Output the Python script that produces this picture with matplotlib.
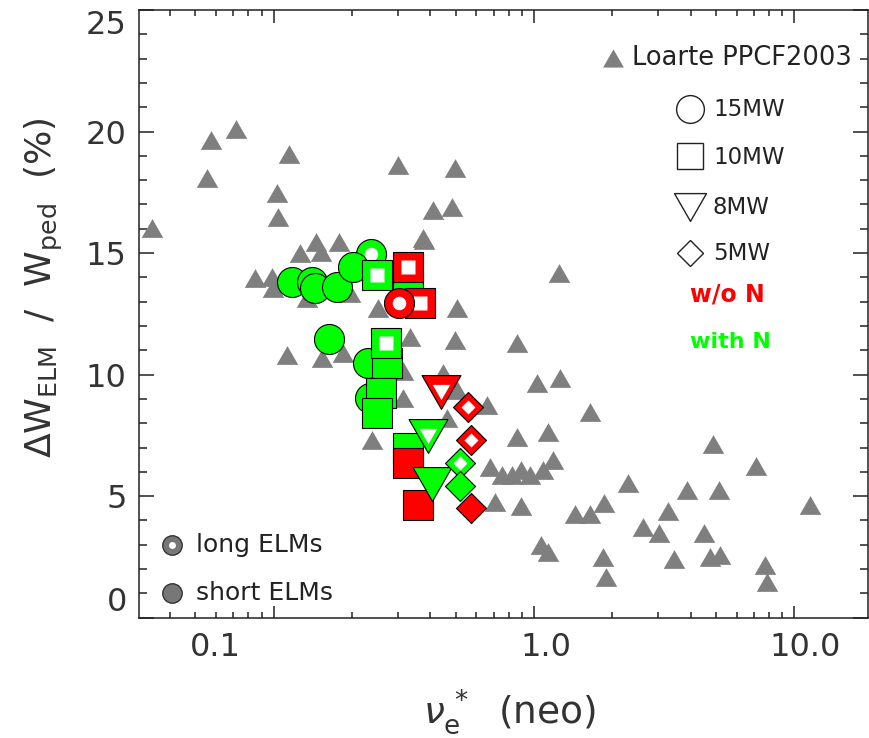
import numpy as np
import matplotlib
matplotlib.use("Agg")
import matplotlib.pyplot as plt
from matplotlib.path import Path
from matplotlib.transforms import ScaledTranslation
from matplotlib.ticker import FixedLocator, NullFormatter, FixedFormatter

plt.rcParams['font.family'] = ['DejaVu Sans']
plt.rcParams['mathtext.fontset'] = 'custom'
plt.rcParams['mathtext.rm'] = 'DejaVu Sans'
plt.rcParams['mathtext.it'] = 'DejaVu Sans:italic'

# ---------------- data ----------------
# Loarte PPCF2003 database (grey triangles)
loarte_nu = [0.0341, 0.0554, 0.0574, 0.0716, 0.1030, 0.1039, 0.1145, 0.0848, 0.0985, 0.0994,
             0.1262, 0.1454, 0.1782, 0.1519, 0.1342, 0.1964, 0.1125, 0.1533, 0.1846, 0.2516,
             0.3339, 0.3747, 0.3139, 0.3139, 0.2386, 0.3003, 0.4093, 0.4842, 0.4972, 0.3780,
             0.5061, 0.4972, 0.4472, 0.5061, 0.6598, 0.4634,
             0.8612, 1.249, 1.027, 1.259, 1.641, 0.6776, 0.7537, 0.8232, 0.7082, 0.8603,
             1.132, 1.183, 0.9654, 1.064, 1.132, 1.437, 1.641, 1.857, 1.841, 1.891,
             2.297, 2.622, 3.021, 3.272, 3.450, 3.870, 4.500, 4.873, 4.745, 5.184,
             5.138, 7.128, 7.720, 7.857, 11.49, 1.083, 0.8914, 0.891]
loarte_dw = [16.04, 18.10, 19.66, 20.11, 17.48, 16.49, 19.08, 13.98, 14.02, 13.57,
             15.01, 15.46, 15.46, 15.05, 13.16, 13.36, 10.81, 10.69, 10.89, 12.75,
             11.55, 15.63, 10.15, 9.04, 7.31, 18.63, 16.78, 16.90, 18.51, 15.54,
             12.75, 11.43, 10.07, 9.37, 8.75, 8.22,
             11.30, 14.19, 9.66, 9.86, 8.47, 6.20, 5.87, 5.87, 4.76, 7.44,
             7.64, 6.49, 5.87, 2.99, 2.70, 4.27, 4.27, 4.72, 2.50, 1.67,
             5.54, 3.73, 3.49, 4.40, 2.41, 5.26, 3.49, 7.15, 2.50, 2.58,
             5.26, 6.24, 2.17, 1.47, 4.64, 6.08, 6.08, 4.60]

# 15 MW (circles)
c15_withN_short_nu = [0.1179, 0.1399, 0.1441, 0.1746, 0.2012, 0.1631, 0.2309, 0.2344]
c15_withN_short_dw = [13.79, 13.79, 13.56, 13.60, 14.44, 11.46, 10.47, 9.03]
c15_withN_long_nu = [0.236]
c15_withN_long_dw = [14.95]
c15_woN_long_nu = [0.3038]
c15_woN_long_dw = [12.94]

# 10 MW (squares)
s10_withN_long_nu = [0.2488, 0.270]
s10_withN_long_dw = [14.10, 11.29]
s10_withN_short_nu = [0.3289, 0.2716, 0.2574, 0.2488, 0.3289]
s10_withN_short_dw = [13.62, 10.47, 9.23, 8.41, 6.97]
s10_woN_long_nu = [0.3289, 0.3648]
s10_woN_long_dw = [14.44, 12.94]
s10_woN_short_nu = [0.3289, 0.3594]
s10_woN_short_dw = [6.35, 4.64]

# 8 MW (down triangles)
t8_woN_long_nu = [0.4393]
t8_woN_long_dw = [9.30]
t8_withN_long_nu = [0.3926]
t8_withN_long_dw = [7.48]
t8_withN_short_nu = [0.4045]
t8_withN_short_dw = [5.50]

# 5 MW (diamonds)
d5_woN_long_nu = [0.5592, 0.5712]
d5_woN_long_dw = [8.68, 7.31]
d5_withN_long_nu = [0.5197]
d5_withN_long_dw = [6.35]
d5_withN_short_nu = [0.5197]
d5_withN_short_dw = [5.42]
d5_woN_short_nu = [0.5712]
d5_woN_short_dw = [4.50]

x_ticks = [0.1, 1.0, 10.0]
x_ticklabels = ['0.1', '1.0', '10.0']
y_ticks = [0, 5, 10, 15, 20, 25]
y_ticklabels = ['0', '5', '10', '15', '20', '25']

GREEN = '#00ff00'
RED = '#ff0000'
GREY = '#7f7f7f'
INK = '#222222'


def tri(up=True):
    s = 1 if up else -1
    verts = [(-1, -0.87 * s), (1, -0.87 * s), (0, 0.87 * s), (0, 0)]
    codes = [Path.MOVETO, Path.LINETO, Path.LINETO, Path.CLOSEPOLY]
    return Path(verts, codes)


TRI_UP = tri(True)
TRI_DN = tri(False)

# ---------------- figure ----------------
W, H = 869, 738
fig = plt.figure(figsize=(W / 100, H / 100), dpi=100)
ax = fig.add_axes([139.3 / W, (H - 617.7) / H, (868 - 139.3) / W, (617.7 - 10) / H])
ax.set_xscale('log')
ax.set_xlim(0.03046, 19.19)
ax.set_ylim(0, 25)
ax.set_autoscale_on(False)

ax.plot(loarte_nu, loarte_dw, linestyle='none', marker=TRI_UP, ms=15.5,
        mfc=GREY, mec='none', zorder=2)

MS = {'o': 21.6, 's': 22.3, 'v': 28.0, 'D': 15.3}


def pts(xs, ys, mk, color, is_long, z):
    m = TRI_DN if mk == 'v' else mk
    ms = MS[mk]
    ax.plot(xs, ys, linestyle='none', marker=m, ms=ms, mfc=color, mec='black',
            mew=0.8, zorder=z)
    if is_long:
        ax.plot(xs, ys, linestyle='none', marker=m, ms=ms * 0.45, mfc='white',
                mec='none', zorder=z + 0.05)


pts(c15_withN_long_nu, c15_withN_long_dw, 'o', GREEN, True, 3)
pts(c15_withN_short_nu, c15_withN_short_dw, 'o', GREEN, False, 3.2)
pts(s10_withN_long_nu, s10_withN_long_dw, 's', GREEN, True, 3.4)
pts(s10_withN_short_nu, s10_withN_short_dw, 's', GREEN, False, 3.3)
pts(s10_woN_long_nu, s10_woN_long_dw, 's', RED, True, 3.6)
pts(s10_woN_short_nu, s10_woN_short_dw, 's', RED, False, 3.6)
pts(c15_woN_long_nu, c15_woN_long_dw, 'o', RED, True, 3.8)
pts(t8_woN_long_nu, t8_woN_long_dw, 'v', RED, True, 4)
pts(t8_withN_long_nu, t8_withN_long_dw, 'v', GREEN, True, 4)
pts(t8_withN_short_nu, t8_withN_short_dw, 'v', GREEN, False, 4.2)
pts(d5_woN_long_nu, d5_woN_long_dw, 'D', RED, True, 4.4)
pts(d5_withN_long_nu, d5_withN_long_dw, 'D', GREEN, True, 4.4)
pts(d5_withN_short_nu, d5_withN_short_dw, 'D', GREEN, False, 4.5)
pts(d5_woN_short_nu, d5_woN_short_dw, 'D', RED, False, 4.6)

# ---------------- axes styling ----------------
for s in ax.spines.values():
    s.set_linewidth(1.1)
    s.set_color(INK)
ax.xaxis.set_major_locator(FixedLocator(x_ticks))
ax.xaxis.set_major_formatter(FixedFormatter(x_ticklabels))
minors = [m * 10.0 ** e for e in (-2, -1, 0, 1) for m in range(2, 10)]
ax.xaxis.set_minor_locator(FixedLocator(minors))
ax.xaxis.set_minor_formatter(NullFormatter())
ax.yaxis.set_major_locator(FixedLocator(y_ticks))
ax.yaxis.set_major_formatter(FixedFormatter(y_ticklabels))
ax.yaxis.set_minor_locator(FixedLocator(list(range(0, 26))))
ax.tick_params(which='both', direction='in', top=True, right=True, color=INK, width=1.1)
ax.tick_params(axis='x', which='major', length=9, labelsize=23, pad=10, labelcolor='#333333')
ax.tick_params(axis='x', which='minor', length=4.5)
ax.tick_params(axis='y', which='major', length=11, labelsize=23, pad=9, labelcolor='#333333')
ax.tick_params(axis='y', which='minor', length=6)
ylabs = ax.get_yticklabels()
ylabs[0].set_verticalalignment('bottom')
ylabs[-1].set_verticalalignment('top')
# IDL-style label placement offsets (pixels)
x_label_shift = [-58, 12, 11]
for lab, dx in zip(ax.get_xticklabels(), x_label_shift):
    lab.set_transform(lab.get_transform() + ScaledTranslation(dx / 100, 0, fig.dpi_scale_trans))

fig.text(44 / W, 1 - 288 / H, r'$\Delta$W$_{\mathrm{ELM}}$  /  W$_{\mathrm{ped}}$  (%)',
         rotation=90, ha='center', va='center', fontsize=26, color='#333333')
fig.text(509 / W, 1 - 712 / H, r'$\nu_{\mathrm{e}}^{\,*}$  (neo)', ha='center', va='center',
         fontsize=27, color='#333333')

# ---------------- legends ----------------
def px(xp, yp):
    return ((xp - 139.3) / (868 - 139.3), (617.7 - yp) / (617.7 - 10))

tr = ax.transAxes
ax.plot(*px(613, 58), transform=tr, marker=TRI_UP, ms=15, mfc=GREY, mec='none', zorder=6)
ax.text(*px(632, 58), 'Loarte PPCF2003', transform=tr, ha='left', va='center',
        fontsize=18.5, color=INK)
leg_items = [('o', 20, '15MW', 109), ('s', 19.4, '10MW', 156), (TRI_DN, 23, '8MW', 207),
             ('D', 13.7, '5MW', 253)]
for mk, ms, lab, yy in leg_items:
    ax.plot(*px(690, yy), transform=tr, marker=mk, ms=ms, mfc='none', mec=INK,
            mew=1.0, zorder=6)
    ax.text(*px(713, yy + 1), lab, transform=tr, ha='left', va='center', fontsize=16.5,
            color=INK)
ax.text(*px(690, 295), 'w/o N', transform=tr, ha='left', va='center', fontsize=17,
        fontweight='bold', color=RED)
ax.text(*px(690, 342), 'with N', transform=tr, ha='left', va='center', fontsize=16,
        fontweight='bold', color=GREEN)

ax.plot(*px(171.7, 545), transform=tr, marker='o', ms=14, mfc='#777777', mec='#333333',
        mew=1.0, zorder=6)
ax.plot(*px(171.7, 545), transform=tr, marker='o', ms=5, mfc='white', mec='none', zorder=6.1)
ax.text(*px(196, 545), 'long ELMs', transform=tr, ha='left', va='center', fontsize=18,
        color=INK)
ax.plot(*px(171.7, 593), transform=tr, marker='o', ms=14, mfc='#777777', mec='#333333',
        mew=1.0, zorder=6)
ax.text(*px(196, 593), 'short ELMs', transform=tr, ha='left', va='center', fontsize=18,
        color=INK)

fig.savefig('out.png', dpi=100)
